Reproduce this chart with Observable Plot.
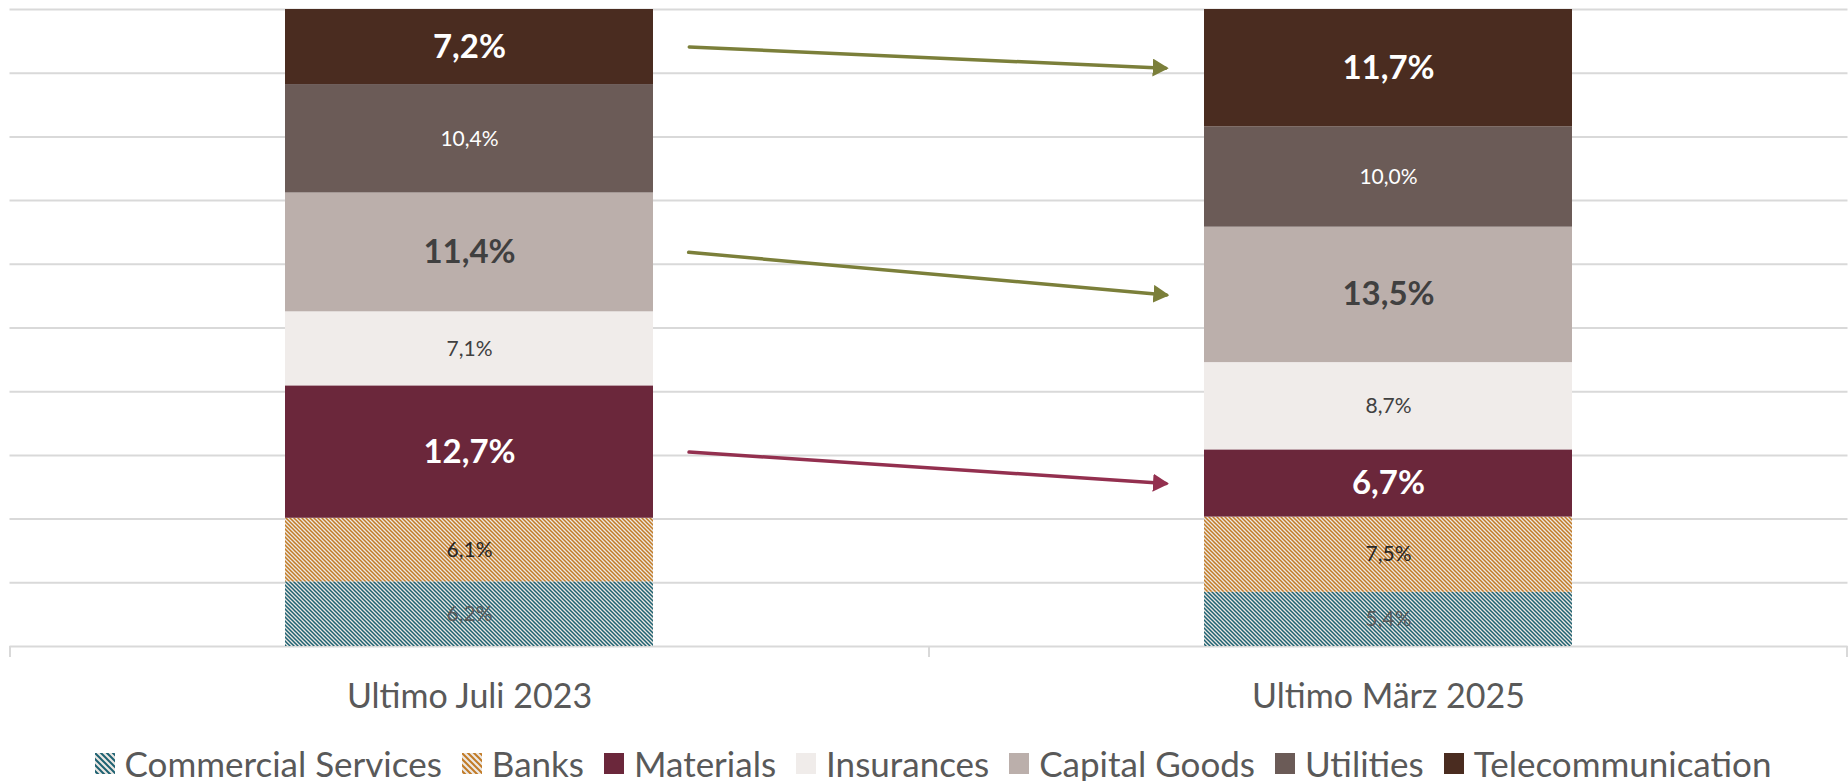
<!DOCTYPE html>
<html><head><meta charset="utf-8">
<script src="https://cdn.jsdelivr.net/npm/d3@7"></script>
<script src="https://cdn.jsdelivr.net/npm/@observablehq/plot@0.6"></script>
<style>
html,body{margin:0;padding:0;background:#fff;}
body{width:1848px;height:781px;overflow:hidden;font-family:Lato, sans-serif;}
#legend{display:flex;justify-content:center;align-items:center;height:36px;margin-top:20px;padding-left:18px;font-size:35px;color:#595959;white-space:nowrap;}
.item{display:flex;align-items:center;margin:0 10px;}
.item svg{margin-right:10px;display:block;}
</style></head><body>
<svg width="0" height="0" style="position:absolute">
<defs>
<pattern id="hatchTeal" patternUnits="userSpaceOnUse" width="4" height="4">
<rect width="4" height="4" fill="#ebe6e2"/>
<path d="M-1,-1L5,5M3,-1L5,1M-1,3L1,5" stroke="#1e6272" stroke-width="1.5"/>
</pattern>
<pattern id="hatchOrange" patternUnits="userSpaceOnUse" width="4" height="4">
<rect width="4" height="4" fill="#ede8e3"/>
<path d="M-1,-1L5,5M3,-1L5,1M-1,3L1,5" stroke="#c27b26" stroke-width="1.5"/>
</pattern>
<pattern id="hatchTealL" patternUnits="userSpaceOnUse" width="6" height="6">
<rect width="6" height="6" fill="#ebe6e2"/>
<path d="M-1,-1L7,7M5,-1L7,1M-1,5L1,7" stroke="#1e6272" stroke-width="2"/>
</pattern>
<pattern id="hatchOrangeL" patternUnits="userSpaceOnUse" width="6" height="6">
<rect width="6" height="6" fill="#ede8e3"/>
<path d="M-1,-1L7,7M5,-1L7,1M-1,5L1,7" stroke="#c27b26" stroke-width="2"/>
</pattern>
<marker id="headOlive" viewBox="0 0 16 18" refX="13" refY="9" markerUnits="userSpaceOnUse" markerWidth="16" markerHeight="18" orient="auto">
<path d="M0,0L16,9L0,18Z" fill="#7b7f3a"/>
</marker>
<marker id="headMaroon" viewBox="0 0 16 18" refX="13" refY="9" markerUnits="userSpaceOnUse" markerWidth="16" markerHeight="18" orient="auto">
<path d="M0,0L16,9L0,18Z" fill="#93304f"/>
</marker>
</defs></svg>
<div id="chart"></div>
<div id="legend"></div>
<script>
const periods = ["Ultimo Juli 2023", "Ultimo März 2025"];
const sectors = ["Commercial Services", "Banks", "Materials", "Insurances", "Capital Goods", "Utilities", "Telecommunication"];
const valuesJuli2023 = [6.2, 6.1, 12.7, 7.1, 11.4, 10.4, 7.2];
const valuesMaerz2025 = [5.4, 7.5, 6.7, 8.7, 13.5, 10.0, 11.7];
const sectorFills = ["url(#hatchTeal)", "url(#hatchOrange)", "#6b273b", "#f0ecea", "#bbafab", "#6b5b57", "#4a2c20"];
const legendFills = ["url(#hatchTealL)", "url(#hatchOrangeL)", "#6b273b", "#f0ecea", "#bbafab", "#6b5b57", "#4a2c20"];
const labelColors = ["#595959", "#262626", "#ffffff", "#404040", "#404040", "#ffffff", "#ffffff"];
const boldSectors = ["Materials", "Capital Goods", "Telecommunication"];
const arrowSectors = ["Telecommunication", "Capital Goods", "Materials"];
const arrowStrokes = ["#7b7f3a", "#7b7f3a", "#93304f"];
const arrowMarkers = ["headOlive", "headOlive", "headMaroon"];

const fmt = v => v.toFixed(1).replace(".", ",") + "%";
const seriesByPeriod = [valuesJuli2023, valuesMaerz2025];
const rows = [];
periods.forEach((p, pi) => {
  const vals = seriesByPeriod[pi];
  const total = d3.sum(vals);
  let acc = 0;
  sectors.forEach((s, si) => {
    const y1 = acc / total; acc += vals[si]; const y2 = acc / total;
    rows.push({period: p, sector: s, value: vals[si], y1, y2, mid: (y1 + y2) / 2,
      fill: sectorFills[si], labelColor: labelColors[si], bold: boldSectors.includes(s)});
  });
});

const W = 1848, H = 725, mL = 9.5, mR = 0.5, mT = 9, mB = 79;
const step = (W - mL - mR) / periods.length;
const gapStart = 220, gapEnd = 223;           // pixel gap from bar centers to arrow ends
const span = step - gapStart - gapEnd;
// arrows run from the left segment's middle to the right segment's middle,
// extended to the bar centres so that the insets land at those middles
const arrows = arrowSectors.map((s, i) => {
  const a = rows.find(r => r.period === periods[0] && r.sector === s);
  const b = rows.find(r => r.period === periods[1] && r.sector === s);
  const d = b.mid - a.mid;
  return {from: periods[0], to: periods[1], y1: a.mid - d * gapStart / span, y2: b.mid + d * gapEnd / span, stroke: arrowStrokes[i]};
});

const chart = Plot.plot({
  width: W, height: H, marginLeft: mL, marginRight: mR, marginTop: mT, marginBottom: mB,
  style: {fontFamily: "Lato, sans-serif", background: "#fff", overflow: "visible"},
  x: {domain: periods, paddingInner: 0.6, paddingOuter: 0.3, label: null},
  y: {domain: [0, 1], axis: null},
  color: {type: "identity"},
  marks: [
    Plot.gridY({ticks: 10, stroke: "#d9d9d9", strokeOpacity: 1, strokeWidth: 2}),
    Plot.ruleX(periods, {x: d => d, dx: -step / 2, stroke: "#d9d9d9", strokeWidth: 2, insetTop: H - mT - mB, insetBottom: -11}),
    Plot.ruleX(periods.slice(-1), {x: d => d, dx: step / 2 - 1, stroke: "#d9d9d9", strokeWidth: 2, insetTop: H - mT - mB, insetBottom: -11}),
    Plot.barY(rows, {x: "period", y1: "y1", y2: "y2", fill: "fill"}),
    Plot.text(rows.filter(d => !d.bold), {x: "period", y: "mid", text: d => fmt(d.value), fill: "labelColor", fontSize: 21}),
    Plot.text(rows.filter(d => d.bold), {x: "period", y: "mid", text: d => fmt(d.value), fill: "labelColor", fontSize: 33, fontWeight: "bold"}),
    Plot.arrow(arrows, {x1: "from", x2: "to", y1: "y1", y2: "y2", stroke: "stroke", strokeWidth: 3.5, headLength: 0, insetStart: gapStart, insetEnd: gapEnd}),
    Plot.axisX({tickSize: 0, tickPadding: 37, fontSize: 34, color: "#595959", label: null})
  ]
});
d3.select(chart).selectAll('g[aria-label="arrow"] path').each(function(d, i) {
  this.setAttribute("marker-end", `url(#${arrowMarkers[i]})`);
});
document.getElementById("chart").appendChild(chart);

const legend = d3.select("#legend");
sectors.forEach((s, i) => {
  const item = legend.append("div").attr("class", "item");
  item.append("svg").attr("width", 20).attr("height", 21)
    .append("rect").attr("width", 20).attr("height", 21).attr("fill", legendFills[i]);
  item.append("span").text(s);
});
</script>
</body></html>
